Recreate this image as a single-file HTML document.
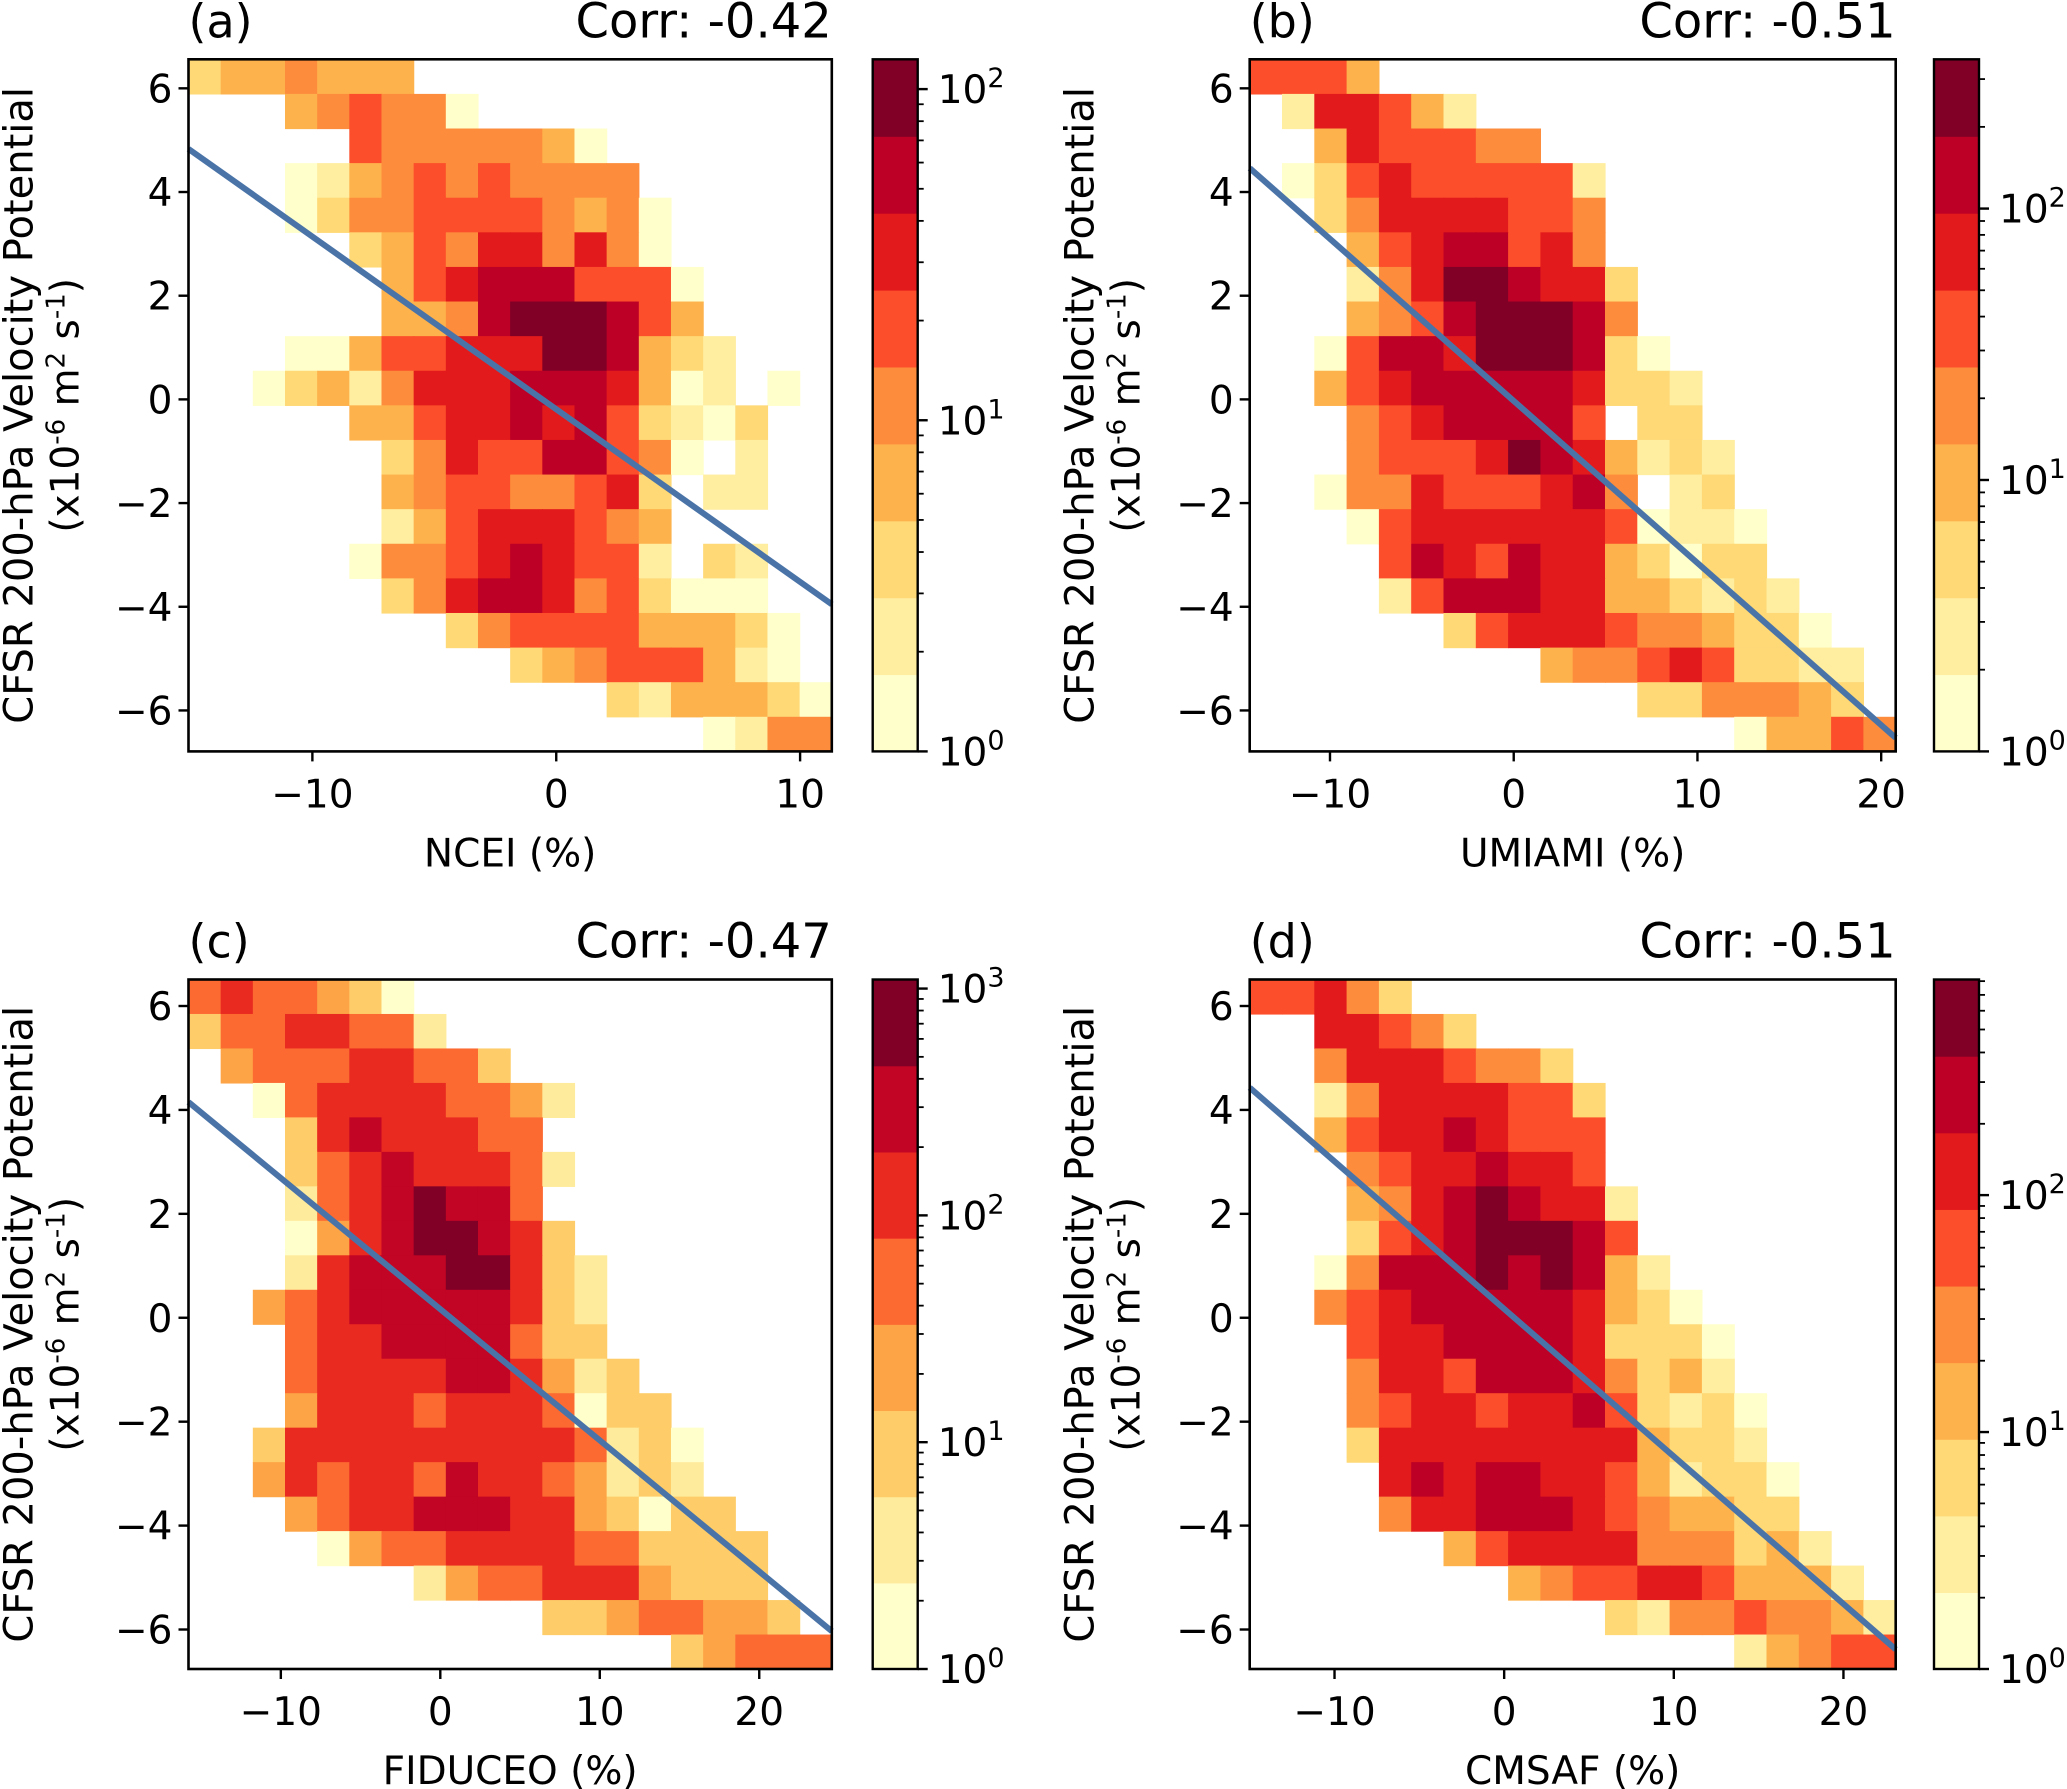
<!DOCTYPE html>
<html><head><meta charset="utf-8">
<style>
html,body{margin:0;padding:0;background:#fff;}
svg{display:block;font-family:"DejaVu Sans","Liberation Sans",sans-serif;}
</style></head>
<body>
<svg id="fig" width="2067" height="1789" viewBox="0 0 2067 1789" xmlns="http://www.w3.org/2000/svg"></svg>
<script>
// ---- data: binned log-count level (0 = empty) per 2D-histogram cell, rows top->bottom ----
const nceiLevels = [
"34454440000000000000","00045655100000000000","00000655555410000000","00012456565555000000",
"00013556666545100000","00000346577575100000","00000046788866610000","00000044589998640000",
"00011466777998432000","00134257778887412010","00000446778786321300","00000035766886510200",
"00000045665567302200","00000024677765400000","00000155678766203200","00000035788756311100",
"00000000356666444310","00000000003456664210","00000000000003244431","00000000000000001255"];
const umiamiLevels = [
"66640000000000000000","02776420000000000000","00476665500000000000","01367666662000000000",
"00357777665000000000","00046788675000000000","00025799877300000000","00045689998500000000",
"00168879998310000000","00467888887332000000","00056788886033000000","00056667987423200000",
"00155766678502300000","00016777777612210000","00006876877431330000","00002688877443232000",
"00000036777655433100","00000000045567633220","00000000000033555430","00000000000000014465"];
const fiduceoLevels = [
"56554310000000000000","35566552000000000000","04555665530000000000","00156666554200000000",
"00036766655000000000","00035676665200000000","00025678775000000000","00014678876300000000",
"00026777886320000000","00456777776320000000","00056677775330000000","00056666776423000000",
"00046665666513300000","00366666666652310000","00465665766542320000","00045667776643133000",
"00001455666655333300","00000002455666433300","00000000000334554430","00000000000000034555"];
const cmsafLevels = [
"66753000000000000000","00776530000000000000","00577765530000000000","00257777663000000000",
"00467787666000000000","00056778776000000000","00045789877200000000","00036789998600000000",
"00158889898420000000","00567888887431000000","00067788887333100000","00057768887534200000",
"00056776778632310000","00037777777743320000","00007878877642331000","00005778887654433000",
"00000046777755534200","00000000456677644420","00000000000325565542","00000000000000024566"];
const panelTags = ["(a)","(b)","(c)","(d)"];
const corrValues = ["-0.42","-0.51","-0.47","-0.51"];
const xLabels = ["NCEI (%)","UMIAMI (%)","FIDUCEO (%)","CMSAF (%)"];
const xRanges = [[-15.08,11.3],[-14.37,20.79],[-15.79,24.55],[-15.0,23.08]];
const yRanges = [[-6.79,6.56],[-6.79,6.56],[-6.76,6.51],[-6.76,6.51]];
const xTicksA = [-10,0,10];
const xTicksB = [-10,0,10,20];
const yTicks = [-6,-4,-2,0,2,4,6];
const fitSlopes = [-0.333,-0.3126,-0.2524,-0.2839];
const fitIntercepts = [-0.19,-0.03,0.165,0.17];
const cbarLogMax = [2.09,2.55,3.04,2.91];
const cbarBands = [9,9,8,9];

const pal9 = ['#ffffcc','#ffeda0','#fed976','#feb24c','#fd8d3c','#fc4e2a','#e31a1c','#bd0026','#800026'];
const pal8 = ['#ffffcc','#ffeb9c','#fecd69','#fda446','#fc6a32','#e92a20','#c20425','#800026'];

const NS="http://www.w3.org/2000/svg";
const svg=document.getElementById('fig');
function mk(tag,attrs,parent){const e=document.createElementNS(NS,tag);for(const k in attrs)e.setAttribute(k,attrs[k]);(parent||svg).appendChild(e);return e;}
const fmt=v=>(v<0?'\u2212'+(-v):''+v);

const levelSets=[nceiLevels,umiamiLevels,fiduceoLevels,cmsafLevels];
const xTickSets=[xTicksA,xTicksB,xTicksB,xTicksB];
const boxes=[
 {x0:188.5,x1:831.8,y0:59.3,y1:751.4,cb:872.7},
 {x0:1249.7,x1:1895.7,y0:59.3,y1:751.4,cb:1934},
 {x0:188.5,x1:831.8,y0:979.5,y1:1669,cb:872.7},
 {x0:1249.7,x1:1895.7,y0:979.5,y1:1669,cb:1934}];
const FS=39;

for(let p=0;p<4;p++){
  const b=boxes[p],xr=xRanges[p],yr=yRanges[p],lv=levelSets[p];
  const pal=cbarBands[p]===8?pal8:pal9;
  const sx=v=>b.x0+(v-xr[0])/(xr[1]-xr[0])*(b.x1-b.x0);
  const sy=v=>b.y1-(v-yr[0])/(yr[1]-yr[0])*(b.y1-b.y0);
  const g=mk('g',{});
  
  
  const hm=mk('g',{},g);
  
  
  const nr=lv.length,nc=lv[0].length;
  const dx=(xr[1]-xr[0])/nc,dy=(yr[1]-yr[0])/nr;
  for(let r=0;r<nr;r++)for(let c=0;c<nc;c++){
    const L=+lv[r][c]; if(!L) continue;
    const xa=xr[0]+c*dx, yt=yr[1]-r*dy;
    const x1=sx(xa),x2=sx(xa+dx),y1=sy(yt),y2=sy(yt-dy);
    const rc=mk('rect',{x:x1.toFixed(2),y:y1.toFixed(2),width:(x2-x1+0.6).toFixed(2),height:(y2-y1+0.6).toFixed(2),fill:pal[L-1]},hm);
    
    
  }
  const m=fitSlopes[p],k=fitIntercepts[p];
  let xs=xr[0],xe=xr[1];
  const xAtY=y=>(y-k)/m;
  const xa1=xAtY(yr[0]),xa2=xAtY(yr[1]);
  xs=Math.max(xs,Math.min(xa1,xa2)); xe=Math.min(xe,Math.max(xa1,xa2));
  const ln=mk('line',{x1:sx(xs),y1:sy(m*xs+k),x2:sx(xe),y2:sy(m*xe+k),stroke:'#4a74a8','stroke-width':6},g);
  
  
  const fr=mk('rect',{x:b.x0,y:b.y0,width:b.x1-b.x0,height:b.y1-b.y0,fill:'none',stroke:'#000','stroke-width':2.6},g);
  
  
  xTickSets[p].forEach(v=>{
    const X=sx(v);
    mk('line',{x1:X,y1:b.y1,x2:X,y2:b.y1+10,stroke:'#000','stroke-width':2.4},g);
    const t=mk('text',{x:X,y:b.y1+56,'font-size':FS,'text-anchor':'middle',fill:'#000'},g);
    t.textContent=fmt(v);
    
    
  });
  yTicks.forEach(v=>{
    const Y=sy(v);
    mk('line',{x1:b.x0-10,y1:Y,x2:b.x0,y2:Y,stroke:'#000','stroke-width':2.4},g);
    const t=mk('text',{x:b.x0-16,y:Y+14,'font-size':FS,'text-anchor':'end',fill:'#000'},g);
    t.textContent=fmt(v);
    
    
  });
  const xl=mk('text',{x:(b.x0+b.x1)/2,y:b.y1+115,'font-size':FS,'text-anchor':'middle'},g);
  xl.textContent=xLabels[p];
  
  
  const cy=(b.y0+b.y1)/2;
  const yl=mk('text',{x:0,y:0,'font-size':40,'text-anchor':'middle',transform:`translate(${b.x0-156},${cy}) rotate(-90)`},g);
  yl.textContent='CFSR 200-hPa Velocity Potential';
  
  
  const yl2=mk('text',{x:0,y:0,'font-size':FS,'text-anchor':'middle',transform:`translate(${b.x0-110},${cy}) rotate(-90)`},g);
  yl2.innerHTML='(x10<tspan dy="-14" font-size="26">-6</tspan><tspan dy="14"> m</tspan><tspan dy="-14" font-size="26">2</tspan><tspan dy="14">  s</tspan><tspan dy="-14" font-size="26">-1</tspan><tspan dy="14">)</tspan>';
  
  
  const tg=mk('text',{x:b.x0,y:b.y0-22,'font-size':46},g);
  tg.textContent=panelTags[p];
  
  
  const cr=mk('text',{x:b.x1,y:b.y0-22,'font-size':48,'text-anchor':'end'},g);
  cr.textContent='Corr: '+corrValues[p];
  
  
  const cb=mk('g',{},g);
  
  
  const cw=45,nb=cbarBands[p],LM=cbarLogMax[p];
  const cyv=l=>b.y1-l/LM*(b.y1-b.y0);
  for(let i=0;i<nb;i++){
    const ya=b.y1-(i+1)*(b.y1-b.y0)/nb, h=(b.y1-b.y0)/nb;
    mk('rect',{x:b.cb,y:ya,width:cw,height:h+0.6,fill:pal[i]},cb);
  }
  mk('rect',{x:b.cb,y:b.y0,width:cw,height:b.y1-b.y0,fill:'none',stroke:'#000','stroke-width':2.4},cb);
  for(let d=0;d<=Math.floor(LM);d++){
    for(let mm=1;mm<10;mm++){
      const l=d+Math.log10(mm); if(l>LM) break;
      const Y=cyv(l);
      mk('line',{x1:b.cb+cw,y1:Y,x2:b.cb+cw+(mm===1?10:6),y2:Y,stroke:'#000','stroke-width':mm===1?2.4:1.8},cb);
      if(mm===1){
        const t=mk('text',{x:b.cb+cw+20,y:Y+14,'font-size':FS},cb);
        t.innerHTML='10<tspan dy="-16" font-size="27">'+d+'</tspan>';
        
        
      }
    }
  }
}
</script>
</body></html>
